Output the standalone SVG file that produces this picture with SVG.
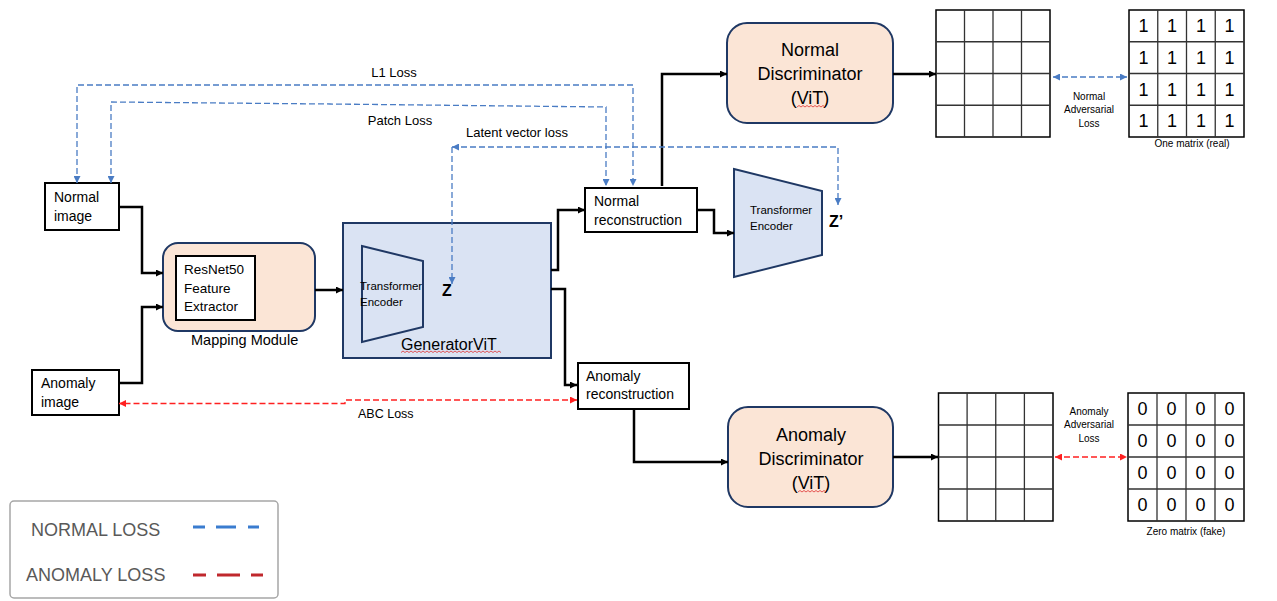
<svg xmlns="http://www.w3.org/2000/svg" width="1277" height="601" viewBox="0 0 1277 601">
<style>
text{font-family:"Liberation Sans",Arial,sans-serif;fill:#000}
.box{fill:#fff;stroke:#000;stroke-width:2}
.peach{fill:#fbe5d6;stroke:#1f3864;stroke-width:2}
.blue{fill:#dae3f3;stroke:#1f3864;stroke-width:2}
.conn{fill:none;stroke:#000;stroke-width:2.5}
.bl{fill:none;stroke:#4a7cc4;stroke-width:1.3;stroke-dasharray:6 3}
.rd{fill:none;stroke:#ff2020;stroke-width:1.3;stroke-dasharray:6 3}
.grid{fill:none;stroke:#000;stroke-width:1.5}
.gl{stroke:#333;stroke-width:1.3}
.t14{font-size:14px}
.te{font-size:11.5px}
.disc{font-size:18px;text-anchor:middle}
.sm{font-size:10px;text-anchor:middle}
.num{font-size:18px;text-anchor:middle}
.sq{fill:none;stroke:#e03030;stroke-width:0.8}
.lg{font-size:18px;fill:#595959}
</style>
<defs>
<marker id="ak" viewBox="0 0 10 10" refX="10" refY="5" markerWidth="8" markerHeight="7" orient="auto-start-reverse" markerUnits="userSpaceOnUse"><path d="M0,0 L10,5 L0,10 z" fill="#000"/></marker>
<marker id="ab" viewBox="0 0 10 10" refX="10" refY="5" markerWidth="7" markerHeight="7" orient="auto-start-reverse" markerUnits="userSpaceOnUse"><path d="M0,0 L10,5 L0,10 z" fill="#4a7cc4"/></marker>
<marker id="ar" viewBox="0 0 10 10" refX="10" refY="5" markerWidth="7" markerHeight="7" orient="auto-start-reverse" markerUnits="userSpaceOnUse"><path d="M0,0 L10,5 L0,10 z" fill="#ff2020"/></marker>
</defs>

<g id="normal-image">
<rect class="box" x="45" y="183" width="74" height="47"/>
<text class="t14" x="54" y="202">Normal</text>
<text class="t14" x="54" y="221">image</text>
</g>

<g id="anomaly-image">
<rect class="box" x="32" y="370" width="87" height="45"/>
<text class="t14" x="41" y="388">Anomaly</text>
<text class="t14" x="41" y="407">image</text>
</g>

<g id="mapping-module">
<rect class="peach" x="163" y="243" width="152" height="88" rx="15"/>
<rect class="box" x="176" y="256" width="79" height="64"/>
<text font-size="13.5" x="184" y="274">ResNet50</text>
<text font-size="13.5" x="184" y="293">Feature</text>
<text font-size="13.5" x="184" y="311">Extractor</text>
<text font-size="14.5" x="191" y="345">Mapping Module</text>
</g>

<g id="generator-vit">
<rect class="blue" x="343" y="223" width="208" height="135"/>
<polygon class="blue" points="362,246 423,261 423,327 362,342"/>
<text class="te" x="360" y="290">Transformer</text>
<text class="te" x="360" y="306">Encoder</text>
<text x="442" y="296" font-size="16" font-weight="bold">Z</text>
<text x="401" y="350" font-size="16">GeneratorViT</text>
<path class="sq" d="M401,352.5 l2,-1.5 l2,1.5 l2,-1.5 l2,1.5 l2,-1.5 l2,1.5 l2,-1.5 l2,1.5 l2,-1.5 l2,1.5 l2,-1.5 l2,1.5 l2,-1.5 l2,1.5 l2,-1.5 l2,1.5 l2,-1.5 l2,1.5 l2,-1.5 l2,1.5 l2,-1.5 l2,1.5 l2,-1.5 l2,1.5 l2,-1.5 l2,1.5 l2,-1.5 l2,1.5 l2,-1.5 l2,1.5 l2,-1.5 l2,1.5 l2,-1.5 l2,1.5 l2,-1.5 l2,1.5 l2,-1.5 l2,1.5 l2,-1.5 l2,1.5 l2,-1.5 l2,1.5 l2,-1.5 l2,1.5 l2,-1.5 l2,1.5 l2,-1.5 l2,1.5 l2,-1.5 l2,1.5"/>
</g>

<g id="normal-reconstruction">
<rect class="box" x="585" y="188" width="112" height="44"/>
<text class="t14" x="594" y="206">Normal</text>
<text class="t14" x="594" y="225">reconstruction</text>
</g>

<g id="anomaly-reconstruction">
<rect class="box" x="578" y="363" width="111" height="46"/>
<text class="t14" x="586" y="381">Anomaly</text>
<text class="t14" x="586" y="399">reconstruction</text>
</g>

<g id="transformer-encoder-2">
<polygon class="blue" points="734,169 822,191 822,255 734,277"/>
<text class="te" x="750" y="214">Transformer</text>
<text class="te" x="750" y="230">Encoder</text>
<text x="829" y="227" font-size="16" font-weight="bold">Z’</text>
</g>

<g id="normal-discriminator">
<rect class="peach" x="727" y="23" width="166" height="100" rx="20"/>
<text class="disc" x="810" y="56">Normal</text>
<text class="disc" x="810" y="80">Discriminator</text>
<text class="disc" x="810" y="104">(ViT)</text>
<path class="sq" d="M797,107 l2,-1.5 l2,1.5 l2,-1.5 l2,1.5 l2,-1.5 l2,1.5 l2,-1.5 l2,1.5 l2,-1.5 l2,1.5 l2,-1.5 l2,1.5 l2,-1.5 l2,1.5"/>
</g>

<g id="anomaly-discriminator">
<rect class="peach" x="728" y="407" width="165" height="100" rx="20"/>
<text class="disc" x="811" y="441">Anomaly</text>
<text class="disc" x="811" y="465">Discriminator</text>
<text class="disc" x="811" y="489">(ViT)</text>
<path class="sq" d="M798,492 l2,-1.5 l2,1.5 l2,-1.5 l2,1.5 l2,-1.5 l2,1.5 l2,-1.5 l2,1.5 l2,-1.5 l2,1.5 l2,-1.5 l2,1.5 l2,-1.5 l2,1.5"/>
</g>

<g id="normal-output-matrix">
<rect class="grid" x="936" y="10" width="114" height="127"/>
<path class="gl" d="M964.5,10 V137 M993,10 V137 M1021.5,10 V137 M936,41.75 H1050 M936,73.5 H1050 M936,105.25 H1050"/>
</g>

<g id="one-matrix">
<rect class="grid" x="1129" y="10" width="115" height="127"/>
<path class="gl" d="M1157.75,10 V137 M1186.5,10 V137 M1215.25,10 V137 M1129,41.75 H1244 M1129,73.5 H1244 M1129,105.25 H1244"/>
<g class="num">
<text x="1143.4" y="32">1</text><text x="1172.1" y="32">1</text><text x="1200.9" y="32">1</text><text x="1229.6" y="32">1</text>
<text x="1143.4" y="64">1</text><text x="1172.1" y="64">1</text><text x="1200.9" y="64">1</text><text x="1229.6" y="64">1</text>
<text x="1143.4" y="96">1</text><text x="1172.1" y="96">1</text><text x="1200.9" y="96">1</text><text x="1229.6" y="96">1</text>
<text x="1143.4" y="127">1</text><text x="1172.1" y="127">1</text><text x="1200.9" y="127">1</text><text x="1229.6" y="127">1</text>
</g>
<text class="sm" x="1192" y="147" font-size="9">One matrix (real)</text>
</g>

<g id="anomaly-output-matrix">
<rect class="grid" x="938.5" y="393" width="114.5" height="128"/>
<path class="gl" d="M967.1,393 V521 M995.75,393 V521 M1024.4,393 V521 M938.5,425 H1053 M938.5,457 H1053 M938.5,489 H1053"/>
</g>

<g id="zero-matrix">
<rect class="grid" x="1128" y="393" width="116" height="128"/>
<path class="gl" d="M1157,393 V521 M1186,393 V521 M1215,393 V521 M1128,425 H1244 M1128,457 H1244 M1128,489 H1244"/>
<g class="num">
<text x="1142.5" y="415">0</text><text x="1171.5" y="415">0</text><text x="1200.5" y="415">0</text><text x="1229.5" y="415">0</text>
<text x="1142.5" y="447">0</text><text x="1171.5" y="447">0</text><text x="1200.5" y="447">0</text><text x="1229.5" y="447">0</text>
<text x="1142.5" y="479">0</text><text x="1171.5" y="479">0</text><text x="1200.5" y="479">0</text><text x="1229.5" y="479">0</text>
<text x="1142.5" y="511">0</text><text x="1171.5" y="511">0</text><text x="1200.5" y="511">0</text><text x="1229.5" y="511">0</text>
</g>
<text class="sm" x="1186" y="535" font-size="9">Zero matrix (fake)</text>
</g>

<g id="legend">
<rect x="10" y="501" width="268" height="97" rx="4" fill="#fff" stroke="#a6a6a6" stroke-width="1.5"/>
<text class="lg" x="31" y="536">NORMAL LOSS</text>
<text class="lg" x="26" y="581">ANOMALY LOSS</text>
<path d="M193,527 H205 M216,527 H236 M248,527 H259" stroke="#3a7ccf" stroke-width="3" fill="none"/>
<path d="M193,575 H206 M217,575 H240 M251,575 H263" stroke="#c0282d" stroke-width="3" fill="none"/>
</g>

<g id="connectors">
<path class="conn" d="M119,207 H142 V273 H163" marker-end="url(#ak)"/>
<path class="conn" d="M119,383 H142 V307 H163" marker-end="url(#ak)"/>
<path class="conn" d="M315,290 H343" marker-end="url(#ak)"/>
<path class="conn" d="M551,270 H558 V210 H585" marker-end="url(#ak)"/>
<path class="conn" d="M551,289 H565 V385 H577" marker-end="url(#ak)"/>
<path class="conn" d="M697,210 H714 V233 H734" marker-end="url(#ak)"/>
<path class="conn" d="M662,186 V74 H727" marker-end="url(#ak)"/>
<path class="conn" d="M893,74 H936" marker-end="url(#ak)"/>
<path class="conn" d="M634,409 V462 H728" marker-end="url(#ak)"/>
<path class="conn" d="M893,457 H938" marker-end="url(#ak)"/>
<path class="bl" d="M77,183 V85 H633 V186" marker-start="url(#ab)" marker-end="url(#ab)"/>
<path class="bl" d="M111,183 V102 L330,104 L606,107 V186" marker-start="url(#ab)" marker-end="url(#ab)"/>
<path class="bl" d="M452,147 H838 V205" marker-start="url(#ab)" marker-end="url(#ab)"/>
<path class="bl" d="M452,147 V284" marker-end="url(#ab)"/>
<path class="bl" d="M1053,77 H1127" marker-start="url(#ab)" marker-end="url(#ab)"/>
<path class="rd" d="M577,400 H345 V403.5 H119" marker-start="url(#ar)" marker-end="url(#ar)"/>
<path class="rd" d="M1055,457 H1127" marker-start="url(#ar)" marker-end="url(#ar)"/>
<text x="394" y="77" font-size="13" text-anchor="middle">L1 Loss</text>
<text x="400" y="125" font-size="13" text-anchor="middle">Patch Loss</text>
<text x="466" y="137" font-size="13">Latent vector loss</text>
<text x="358" y="418" font-size="12.5">ABC Loss</text>
<text class="sm" x="1089" y="100">Normal</text>
<text class="sm" x="1089" y="113">Adversarial</text>
<text class="sm" x="1089" y="127">Loss</text>
<text class="sm" x="1089" y="415">Anomaly</text>
<text class="sm" x="1089" y="428">Adversarial</text>
<text class="sm" x="1089" y="442">Loss</text>
</g>
</svg>
